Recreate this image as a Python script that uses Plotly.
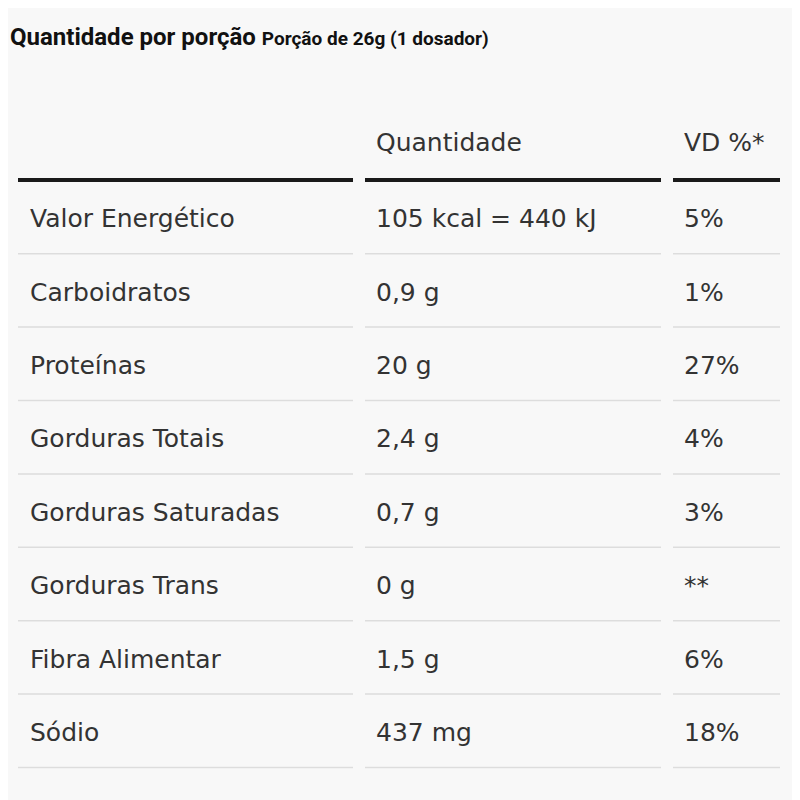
import plotly.graph_objects as go

nutrientes = ["Valor Energético", "Carboidratos", "Proteínas", "Gorduras Totais",
              "Gorduras Saturadas", "Gorduras Trans", "Fibra Alimentar", "Sódio"]
quantidades = ["105 kcal = 440 kJ", "0,9 g", "20 g", "2,4 g", "0,7 g", "0 g", "1,5 g", "437 mg"]
vd = ["5%", "1%", "27%", "4%", "3%", "**", "6%", "18%"]
cabecalho = ["", "Quantidade", "VD %*"]

col_x = [30, 376, 684]
col_seg = [(18, 353), (365, 661), (673, 780)]
row_y0, row_h = 221, 73.4
fonte = dict(family="DejaVu Sans", size=25, color="#333333")

fig = go.Figure()

# header + rows as text
ys = [row_y0 + i * row_h for i in range(len(nutrientes))]
for cx, vals in zip(col_x, [nutrientes, quantidades, vd]):
    fig.add_trace(go.Scatter(x=[cx] * len(vals), y=ys, mode="text", text=vals,
                             textposition="middle right", textfont=fonte,
                             hoverinfo="skip"))
fig.add_trace(go.Scatter(x=col_x, y=[145] * 3, mode="text", text=cabecalho,
                         textposition="middle right", textfont=fonte,
                         hoverinfo="skip"))

# separators
for x0, x1 in col_seg:
    fig.add_trace(go.Scatter(x=[x0, x1], y=[180, 180], mode="lines",
                             line=dict(color="#1a1a1a", width=4), hoverinfo="skip"))
    for i in range(len(nutrientes)):
        yl = row_y0 + row_h / 2 + i * row_h - 4
        fig.add_trace(go.Scatter(x=[x0, x1], y=[yl, yl], mode="lines",
                                 line=dict(color="#dddddd", width=1.5), hoverinfo="skip"))

fig.add_annotation(x=8, y=37, xref="x", yref="y", xanchor="left", showarrow=False,
                   text="<b>Quantidade por porção</b> <span style='font-size:19px'><b>Porção de 26g (1 dosador)</b></span>",
                   font=dict(family="Roboto", size=24, color="#111111"))

# page body has an 8px offset, compensate in the ranges
fig.update_xaxes(range=[8, 808], visible=False)
fig.update_yaxes(range=[808, 8], visible=False)
fig.update_layout(width=800, height=800, margin=dict(l=0, r=0, t=0, b=0),
                  showlegend=False, plot_bgcolor="#f8f8f8", paper_bgcolor="#f8f8f8")

fig.write_html("out.html")
